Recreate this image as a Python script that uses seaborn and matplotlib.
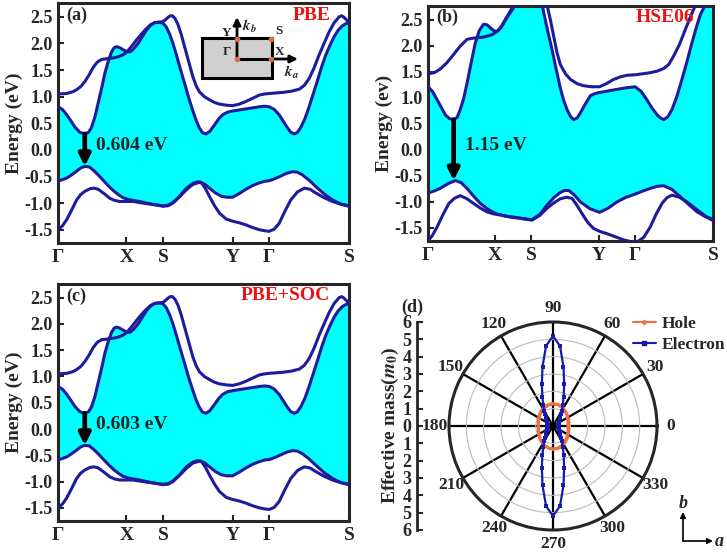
import numpy as np
import matplotlib
matplotlib.use("Agg")
import matplotlib.pyplot as plt
import seaborn as sns
from matplotlib.lines import Line2D
from matplotlib.patches import Rectangle, FancyArrowPatch

W, H = 727, 552

# ---- k-path and axes ticks ----
kpath_ticks = [0.0, 0.235, 0.361, 0.6, 0.726, 1.0]
kpath_labels = ["Γ", "X", "S", "Y", "Γ", "S"]
energy_ticks = [-1.5, -1.0, -0.5, 0.0, 0.5, 1.0, 1.5, 2.0, 2.5]

# ---- PBE bands (k as fraction of path, E in eV) ----
pbe_cb1_k = [0, 0.015, 0.03, 0.045, 0.058, 0.075, 0.092, 0.105, 0.115, 0.127, 0.138, 0.15,
             0.161, 0.173, 0.184, 0.193, 0.201, 0.212, 0.224, 0.235, 0.247, 0.26, 0.275,
             0.29, 0.304, 0.318, 0.332, 0.347, 0.361, 0.372, 0.384, 0.395, 0.406, 0.42,
             0.435, 0.449, 0.463, 0.475, 0.486, 0.497, 0.509, 0.522, 0.538, 0.552, 0.566,
             0.583, 0.6, 0.623, 0.646, 0.669, 0.692, 0.71, 0.726, 0.743, 0.76, 0.775,
             0.789, 0.8, 0.812, 0.823, 0.834, 0.848, 0.863, 0.877, 0.892, 0.906, 0.92,
             0.935, 0.949, 0.963, 0.977, 0.989, 1.0]
pbe_cb1_e = [0.81, 0.76, 0.66, 0.54, 0.43, 0.33, 0.30, 0.33, 0.42, 0.62, 0.88, 1.16,
             1.44, 1.67, 1.84, 1.92, 1.94, 1.92, 1.88, 1.85, 1.84, 1.90, 2.00,
             2.13, 2.25, 2.34, 2.39, 2.40, 2.38, 2.31, 2.17, 2.00, 1.80, 1.53,
             1.25, 0.98, 0.74, 0.55, 0.41, 0.32, 0.30, 0.35, 0.47, 0.58, 0.66,
             0.71, 0.73, 0.75, 0.77, 0.79, 0.81, 0.82, 0.81, 0.76, 0.66, 0.53,
             0.41, 0.33, 0.30, 0.33, 0.42, 0.58, 0.81, 1.05, 1.31, 1.56, 1.78,
             1.97, 2.13, 2.25, 2.33, 2.37, 2.39]
pbe_cb2_k = [0, 0.03, 0.05, 0.064, 0.078, 0.092, 0.107, 0.121, 0.135, 0.15, 0.165, 0.178,
             0.193, 0.207, 0.221, 0.235, 0.252, 0.269, 0.287, 0.304, 0.318, 0.332, 0.347,
             0.361, 0.37, 0.378, 0.386, 0.393, 0.402, 0.412, 0.423, 0.435, 0.449, 0.463,
             0.475, 0.486, 0.503, 0.521, 0.538, 0.555, 0.578, 0.6, 0.623, 0.646, 0.669,
             0.692, 0.71, 0.726, 0.75, 0.772, 0.8, 0.829, 0.846, 0.863, 0.88, 0.897,
             0.915, 0.932, 0.949, 0.966, 0.975, 0.983, 0.992, 1.0]
pbe_cb2_e = [1.05, 1.06, 1.09, 1.13, 1.19, 1.28, 1.41, 1.55, 1.65, 1.70, 1.71, 1.72,
             1.73, 1.75, 1.78, 1.83, 1.94, 2.06, 2.18, 2.28, 2.35, 2.39, 2.40,
             2.41, 2.45, 2.49, 2.52, 2.52, 2.47, 2.36, 2.18, 1.94, 1.66, 1.38,
             1.20, 1.09, 1.00, 0.94, 0.89, 0.86, 0.84, 0.83, 0.86, 0.91, 0.97,
             1.03, 1.05, 1.06, 1.07, 1.08, 1.10, 1.14, 1.21, 1.34, 1.54, 1.78,
             2.01, 2.22, 2.39, 2.50, 2.52, 2.49, 2.44, 2.39]
pbe_vb1_k = [0, 0.03, 0.047, 0.064, 0.078, 0.092, 0.107, 0.121, 0.138, 0.155, 0.172, 0.189,
             0.207, 0.224, 0.241, 0.258, 0.281, 0.304, 0.332, 0.361, 0.378, 0.395, 0.418,
             0.441, 0.463, 0.486, 0.503, 0.521, 0.541, 0.561, 0.58, 0.6, 0.623, 0.646,
             0.669, 0.692, 0.71, 0.726, 0.746, 0.766, 0.786, 0.806, 0.823, 0.84, 0.863,
             0.886, 0.915, 0.943, 0.972, 1.0]
pbe_vb1_e = [-0.59, -0.53, -0.47, -0.40, -0.34, -0.31, -0.32, -0.38, -0.47, -0.57, -0.67, -0.76,
             -0.84, -0.90, -0.93, -0.95, -0.97, -1.00, -1.03, -1.06, -1.05, -1.00, -0.88,
             -0.75, -0.65, -0.61, -0.64, -0.72, -0.81, -0.87, -0.89, -0.89, -0.82, -0.74,
             -0.67, -0.62, -0.59, -0.58, -0.54, -0.49, -0.44, -0.41, -0.42, -0.47, -0.57,
             -0.69, -0.83, -0.94, -1.02, -1.06]
pbe_vb2_k = [0, 0.015, 0.03, 0.047, 0.064, 0.078, 0.092, 0.11, 0.124, 0.138, 0.158, 0.178,
             0.195, 0.212, 0.235, 0.258, 0.281, 0.304, 0.332, 0.361, 0.378, 0.395, 0.418,
             0.441, 0.463, 0.48, 0.492, 0.506, 0.521, 0.538, 0.555, 0.578, 0.6, 0.623,
             0.646, 0.669, 0.692, 0.71, 0.726, 0.743, 0.76, 0.78, 0.8, 0.823, 0.846,
             0.866, 0.886, 0.915, 0.943, 0.972, 1.0]
pbe_vb2_e = [-1.50, -1.43, -1.31, -1.13, -0.94, -0.84, -0.78, -0.73, -0.72, -0.74, -0.82, -0.91,
             -0.95, -0.97, -0.97, -0.97, -0.99, -1.01, -1.03, -1.05, -1.04, -0.99, -0.87,
             -0.72, -0.63, -0.60, -0.61, -0.72, -0.88, -1.05, -1.19, -1.30, -1.34, -1.37,
             -1.41, -1.46, -1.50, -1.52, -1.53, -1.49, -1.38, -1.15, -0.94, -0.79, -0.72,
             -0.74, -0.81, -0.90, -0.97, -1.02, -1.05]

# ---- HSE06 bands ----
hse_cb1_k = [0, 0.016, 0.032, 0.047, 0.061, 0.075, 0.09, 0.102, 0.113, 0.125, 0.137, 0.151,
             0.166, 0.18, 0.195, 0.207, 0.219, 0.23, 0.242, 0.254, 0.265, 0.282, 0.3,
             0.324, 0.359, 0.394, 0.406, 0.42, 0.435, 0.45, 0.464, 0.476, 0.488, 0.5,
             0.511, 0.523, 0.535, 0.552, 0.57, 0.586, 0.602, 0.632, 0.663, 0.695, 0.727,
             0.748, 0.768, 0.786, 0.804, 0.816, 0.827, 0.841, 0.856, 0.873, 0.891, 0.909,
             0.926, 0.941, 0.956, 0.975, 1.0]
hse_cb1_e = [1.21, 1.12, 0.96, 0.81, 0.67, 0.60, 0.58, 0.62, 0.77, 0.98, 1.28, 1.66,
             2.05, 2.29, 2.41, 2.40, 2.34, 2.29, 2.27, 2.33, 2.44, 2.60, 2.77,
             3.10, 3.30, 3.00, 2.63, 2.28, 1.93, 1.54, 1.19, 0.95, 0.77, 0.64,
             0.58, 0.61, 0.71, 0.88, 1.04, 1.08, 1.10, 1.13, 1.16, 1.19, 1.21,
             1.12, 0.96, 0.80, 0.67, 0.61, 0.58, 0.63, 0.77, 1.02, 1.35, 1.70,
             2.05, 2.34, 2.60, 2.80, 3.10]
hse_cb2_k = [0, 0.022, 0.043, 0.066, 0.09, 0.113, 0.137, 0.155, 0.172, 0.19, 0.207, 0.225,
             0.242, 0.26, 0.277, 0.306, 0.336, 0.382, 0.418, 0.43, 0.441, 0.452, 0.464,
             0.482, 0.5, 0.523, 0.546, 0.574, 0.602, 0.626, 0.651, 0.675, 0.698, 0.727,
             0.754, 0.78, 0.804, 0.827, 0.845, 0.862, 0.883, 0.903, 0.92, 0.938, 0.967,
             1.0]
hse_cb2_e = [1.46, 1.48, 1.55, 1.67, 1.83, 1.99, 2.12, 2.14, 2.15, 2.16, 2.18, 2.21,
             2.27, 2.38, 2.54, 2.77, 3.10, 3.20, 2.77, 2.48, 2.18, 1.88, 1.64,
             1.46, 1.35, 1.27, 1.23, 1.21, 1.21, 1.27, 1.35, 1.40, 1.43, 1.44,
             1.46, 1.48, 1.51, 1.56, 1.64, 1.80, 2.03, 2.31, 2.54, 2.77, 3.20,
             3.50]
hse_vb1_k = [0, 0.022, 0.043, 0.07, 0.096, 0.116, 0.137, 0.16, 0.184, 0.21, 0.236, 0.268,
             0.3, 0.333, 0.365, 0.392, 0.418, 0.441, 0.464, 0.479, 0.494, 0.514, 0.535,
             0.568, 0.602, 0.632, 0.663, 0.695, 0.727, 0.754, 0.78, 0.804, 0.827, 0.856,
             0.885, 0.915, 0.944, 0.972, 1.0]
hse_vb1_e = [-0.83, -0.79, -0.74, -0.65, -0.59, -0.63, -0.74, -0.89, -1.03, -1.14, -1.22, -1.27,
             -1.30, -1.32, -1.34, -1.24, -1.06, -0.92, -0.82, -0.78, -0.78, -0.87, -1.00,
             -1.13, -1.20, -1.12, -1.00, -0.91, -0.85, -0.79, -0.74, -0.70, -0.69, -0.76,
             -0.90, -1.05, -1.19, -1.28, -1.33]
hse_vb2_k = [0, 0.016, 0.032, 0.052, 0.073, 0.093, 0.113, 0.137, 0.16, 0.184, 0.207, 0.23,
             0.254, 0.283, 0.312, 0.34, 0.365, 0.392, 0.418, 0.441, 0.464, 0.485, 0.505,
             0.522, 0.54, 0.56, 0.581, 0.605, 0.628, 0.658, 0.687, 0.71, 0.733, 0.757,
             0.78, 0.8, 0.821, 0.838, 0.856, 0.882, 0.909, 0.932, 0.956, 0.978, 1.0]
hse_vb2_e = [-1.75, -1.64, -1.48, -1.25, -1.03, -0.93, -0.88, -0.94, -1.03, -1.12, -1.19, -1.23,
             -1.25, -1.28, -1.30, -1.33, -1.35, -1.26, -1.12, -1.02, -0.94, -0.91, -0.93,
             -1.06, -1.22, -1.39, -1.51, -1.57, -1.61, -1.67, -1.73, -1.76, -1.77, -1.68,
             -1.48, -1.24, -1.03, -0.92, -0.87, -0.91, -1.00, -1.10, -1.20, -1.29, -1.36]

# ---- band gaps: (k, CBM, VBM) ----
pbe_gap = (0.092, 0.30, -0.31)
hse_gap = (0.09, 0.58, -0.59)

# ---- effective mass (m0), angle 0..90 deg in 5 deg steps ----
mass_angle_q = [0, 5, 10, 15, 20, 25, 30, 35, 40, 45, 50, 55, 60, 65, 70, 75, 80, 85, 90]
hole_mass_q = [0.85, 0.85, 0.86, 0.88, 0.90, 0.93, 0.96, 0.99, 1.03, 1.07, 1.11, 1.15, 1.18,
               1.22, 1.25, 1.27, 1.29, 1.30, 1.30]
electron_mass_q = [0.30, 0.30, 0.31, 0.32, 0.34, 0.36, 0.39, 0.44, 0.50, 0.57, 0.67, 0.82, 1.02,
                   1.33, 1.79, 2.49, 3.48, 4.63, 5.20]

BAND_COLOR = "#1c1c9c"
FILL_COLOR = "#00ffff"
HOLE_COLOR = "#f07040"
ELEC_COLOR = "#1a1aaa"

sns.set_theme(style="ticks")
plt.rcParams["font.family"] = ["Liberation Serif", "DejaVu Serif"]
plt.rcParams["font.weight"] = "bold"
plt.rcParams["axes.labelweight"] = "bold"
plt.rcParams["mathtext.fontset"] = "stix"

fig = plt.figure(figsize=(W / 100, H / 100), dpi=100)


def px_axes(left, top, right, bottom, **kw):
    return fig.add_axes([left / W, 1 - bottom / H, (right - left) / W, (bottom - top) / H], **kw)


def band_panel(ax, bands, gap, gap_text, tag, method, ylabel):
    cb_k, cb_e = bands[0]
    vb_k, vb_e = bands[2]
    ax.fill(np.concatenate([cb_k, vb_k[::-1]]), np.concatenate([cb_e, vb_e[::-1]]),
            color=FILL_COLOR, lw=0, zorder=1)
    for k, e in bands:
        sns.lineplot(x=np.asarray(k), y=np.asarray(e), ax=ax, sort=False, estimator=None,
                     color=BAND_COLOR, lw=2.2, zorder=3)
    kg, cbm, vbm = gap
    ax.annotate("", xy=(kg, vbm), xytext=(kg, cbm),
                arrowprops=dict(arrowstyle="-|>", lw=3.4, color="black",
                                mutation_scale=17, shrinkA=0, shrinkB=0), zorder=5)
    ax.text(kg + 0.04, 0.09, gap_text, fontsize=14, fontweight="bold", va="center", ha="left")
    ax.text(0.03, 0.95, tag, transform=ax.transAxes, fontsize=13, fontweight="bold",
            va="center", ha="left")
    ax.text(0.935, 0.95, method, transform=ax.transAxes, fontsize=14, fontweight="bold",
            color="#ee1111", va="center", ha="right")
    ax.set_xlim(0, 1)
    ax.set_ylim(-1.75, 2.76)
    ax.set_xticks(kpath_ticks)
    ax.set_xticklabels(kpath_labels, fontsize=14, fontweight="bold")
    ax.set_yticks(energy_ticks)
    ax.set_yticklabels([f"{v:.1f}" for v in energy_ticks], fontsize=13, fontweight="bold")
    ax.tick_params(direction="in", width=1.5, length=4, pad=4)
    ax.set_xlabel("")
    ax.set_ylabel(ylabel, fontsize=14, fontweight="bold", labelpad=1)
    for sp in ax.spines.values():
        sp.set_linewidth(2.2)


pbe_bands = [(pbe_cb1_k, pbe_cb1_e), (pbe_cb2_k, pbe_cb2_e),
             (pbe_vb1_k, pbe_vb1_e), (pbe_vb2_k, pbe_vb2_e)]
hse_bands = [(hse_cb1_k, hse_cb1_e), (hse_cb2_k, hse_cb2_e),
             (hse_vb1_k, hse_vb1_e), (hse_vb2_k, hse_vb2_e)]
# PBE+SOC curves coincide with the PBE ones at this scale
soc_bands = pbe_bands

ax_a = px_axes(58, 3, 349, 243)
band_panel(ax_a, pbe_bands, pbe_gap, "0.604 eV", "(a)", "PBE", "Energy (eV)")
ax_b = px_axes(428, 6, 713, 241)
band_panel(ax_b, hse_bands, hse_gap, "1.15 eV", "(b)", "HSE06", "Energy (ev)")
ax_c = px_axes(58, 284, 349, 521)
band_panel(ax_c, soc_bands, pbe_gap, "0.603 eV", "(c)", "PBE+SOC", "Energy (eV)")

# ---- Brillouin-zone inset in (a), drawn in figure pixels ----
ins = px_axes(195, 10, 305, 85)
ins.set_xlim(195, 305)
ins.set_ylim(85, 10)
ins.axis("off")
ins.add_patch(Rectangle((202, 38), 70, 40, facecolor="#d0d0d0", edgecolor="black", lw=2.2))
ins.plot([237, 271], [59, 59], color="black", lw=2.2)
ins.annotate("", xy=(237, 17), xytext=(237, 59),
             arrowprops=dict(arrowstyle="-|>", lw=2, color="black", mutation_scale=11,
                             shrinkA=0, shrinkB=0))
ins.annotate("", xy=(298, 59), xytext=(271, 59),
             arrowprops=dict(arrowstyle="-|>", lw=2, color="black", mutation_scale=11,
                             shrinkA=0, shrinkB=0))
ins.scatter([237, 271, 271, 237], [59, 59, 39, 39], s=9, color="#e06a50", zorder=5)
ins.text(231, 33, "Y", fontsize=9.5, fontweight="bold", ha="right", va="center")
ins.text(242, 26, r"$\mathbfit{k}_\mathbfit{b}$", fontsize=11, ha="left", va="center")
ins.text(275, 31, "S", fontsize=9.5, fontweight="bold", ha="left", va="center")
ins.text(231, 52, "Γ", fontsize=9.5, fontweight="bold", ha="right", va="center")
ins.text(275, 52, "X", fontsize=9.5, fontweight="bold", ha="left", va="center")
ins.text(284, 72, r"$\mathbfit{k}_\mathbfit{a}$", fontsize=11, ha="left", va="center")

# ---- (d) polar effective mass ----
half_angle = mass_angle_q + [180 - a for a in mass_angle_q[-2::-1]]
full_angle = np.deg2rad(half_angle + [180 + a for a in half_angle[1:]])
hole_half = hole_mass_q + hole_mass_q[-2::-1]
hole_full = np.asarray(hole_half + hole_half[1:])
elec_half = electron_mass_q + electron_mass_q[-2::-1]
elec_full = np.asarray(elec_half + elec_half[1:])

axp = px_axes(449, 322, 657, 530, projection="polar")
sns.lineplot(x=full_angle, y=hole_full, ax=axp, sort=False, estimator=None, color=HOLE_COLOR,
             lw=1.6, marker="o", markersize=2.5, markeredgewidth=0, zorder=4)
sns.lineplot(x=full_angle, y=elec_full, ax=axp, sort=False, estimator=None, color=ELEC_COLOR,
             lw=1.6, marker="s", markersize=3.2, markeredgewidth=0, zorder=5)
axp.set_xlabel("")
axp.set_ylabel("")
axp.set_rlim(0, 6)
axp.set_rgrids([1, 2, 3, 4, 5], labels=[])
axp.set_thetagrids(range(0, 360, 30), labels=[str(a) for a in range(0, 360, 30)],
                   fontsize=12.5, fontweight="bold")
axp.grid(True)
axp.xaxis.grid(True, color="black", lw=1.6)
axp.yaxis.grid(True, color="#bbbbbb", lw=0.8)
axp.spines["polar"].set_linewidth(2.2)
axp.tick_params(axis="x", pad=-3)
axp.set_facecolor("white")

# left linear mass scale
axm = px_axes(417, 322, 419, 530)
axm.set_ylim(-6, 6)
mass_ticks = list(range(-6, 7))
axm.set_yticks(mass_ticks)
axm.set_yticklabels([str(abs(v)) for v in mass_ticks], fontsize=13, fontweight="bold")
axm.set_xticks([])
for s in ["top", "right", "bottom"]:
    axm.spines[s].set_visible(False)
axm.spines["left"].set_linewidth(2)
axm.tick_params(axis="y", direction="in", length=4, width=1.5, pad=4)
axm.set_ylabel(r"Effective mass($m_0$)", fontsize=14, fontweight="bold", labelpad=1)
axm.patch.set_alpha(0)
fig.text(401 / W, 1 - 307 / H, "(d)", fontsize=13, fontweight="bold", va="center", ha="left")

handles = [Line2D([], [], color=HOLE_COLOR, lw=1.5, marker="o", markersize=2.5),
           Line2D([], [], color=ELEC_COLOR, lw=1.5, marker="s", markersize=3.2)]
fig.legend(handles, ["Hole", "Electron"], loc="upper left", bbox_to_anchor=(633 / W, 1 - 316 / H),
           frameon=False, fontsize=12.5, handlelength=1.3, handletextpad=0.35,
           labelspacing=0.25, borderpad=0, borderaxespad=0)

# lattice direction indicator
ar = dict(arrowstyle="-|>", lw=1.2, color="black", mutation_scale=8, shrinkA=0, shrinkB=0)
fig.add_artist(FancyArrowPatch((683 / W, 1 - 541 / H), (683 / W, 1 - 512 / H),
                               transform=fig.transFigure, **ar))
fig.add_artist(FancyArrowPatch((683 / W, 1 - 541 / H), (713 / W, 1 - 541 / H),
                               transform=fig.transFigure, **ar))
fig.text(683 / W, 1 - 503 / H, "b", fontsize=13, fontweight="bold", style="italic",
         ha="center", va="center")
fig.text(719 / W, 1 - 541 / H, "a", fontsize=13, fontweight="bold", style="italic",
         ha="center", va="center")

fig.savefig("out.png", dpi=100)
